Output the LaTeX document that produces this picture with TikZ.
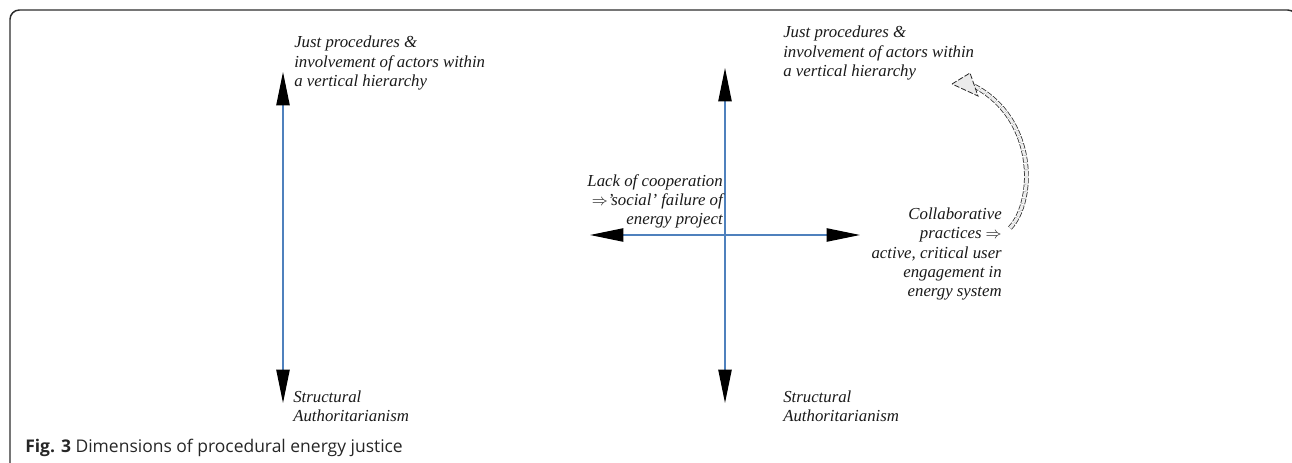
\documentclass[tikz,border=0pt]{standalone}
\usepackage{fontspec}
\setmainfont{Liberation Serif}
\newfontfamily\capfont{Open Sans}
\usetikzlibrary{arrows.meta, positioning}
\definecolor{axisblue}{RGB}{79,129,189}
\definecolor{framegray}{RGB}{45,45,45}

\begin{document}
\begin{tikzpicture}[x=0.75pt, y=-0.75pt,
  lbl/.style={font=\fontsize{12.6}{14.3}\selectfont\itshape, inner sep=0pt, text=black!90},
  axis/.style={axisblue, line width=0.9pt,
    {Triangle[length=25pt, width=10pt, color=black]}-{Triangle[length=25pt, width=10pt, color=black]}},
  turn/.style={black!85, line width=0.55pt, double=black!7, double distance=2.4pt,
    dash pattern=on 4pt off 1.2pt},
  turnhead/.style={black!85, line width=0.6pt, fill=black!8, dash pattern=on 4pt off 1.5pt}]
\useasboundingbox (0,0) rectangle (1292,463);

% frame
\draw[framegray, line width=1.1pt, rounded corners=7pt] (10,470) -- (10,10) -- (1297,10) -- (1297,470);

% left axis
\coordinate (ltop) at (283,72);
\coordinate (lbot) at (283,403);
\draw[axis] (lbot) -- (ltop);
\node[lbl, align=left, anchor=west] (lup) at (294,63) {Just procedures \&\\involvement of actors within\\a vertical hierarchy};
\node[lbl, align=left, anchor=west] (ldown) at (293,406) {Structural\\Authoritarianism};

% cross
\coordinate (ctop) at (725,68);
\coordinate (cbot) at (725,403);
\coordinate (cleft) at (590,235);
\coordinate (cright) at (860,235);
\draw[axis] (cbot) -- (ctop);
\draw[axis] (cleft) -- (cright);
\node[lbl, align=left, anchor=west] (rup) at (783,53) {Just procedures \&\\involvement of actors within\\a vertical hierarchy};
\node[lbl, align=left, anchor=west] (rdown) at (783,406) {Structural\\Authoritarianism};
\node[lbl, align=right, anchor=east] (lack) at (723,201) {Lack of cooperation\\$\Rightarrow$'social' failure of\\energy project};
\node[lbl, align=right, anchor=east] (collab) at (1002,254) {Collaborative\\practices $\Rightarrow$\\active, critical user\\engagement in\\energy system};

% curved arrow
\coordinate (bstart) at (1010,228);
\coordinate (bend) at (974,86);
\draw[turn] (bstart) .. controls (1036,200) and (1036,118) .. (bend);
\draw[turnhead] (952,84) -- (970,73) -- (978,96) -- cycle;

% caption
\node[font=\capfont\fontsize{13.1}{15}\selectfont, text=black!85, inner sep=0pt, anchor=west] (cap) at (25,448) {\textbf{Fig. 3} Dimensions of procedural energy justice};
\end{tikzpicture}
\end{document}
